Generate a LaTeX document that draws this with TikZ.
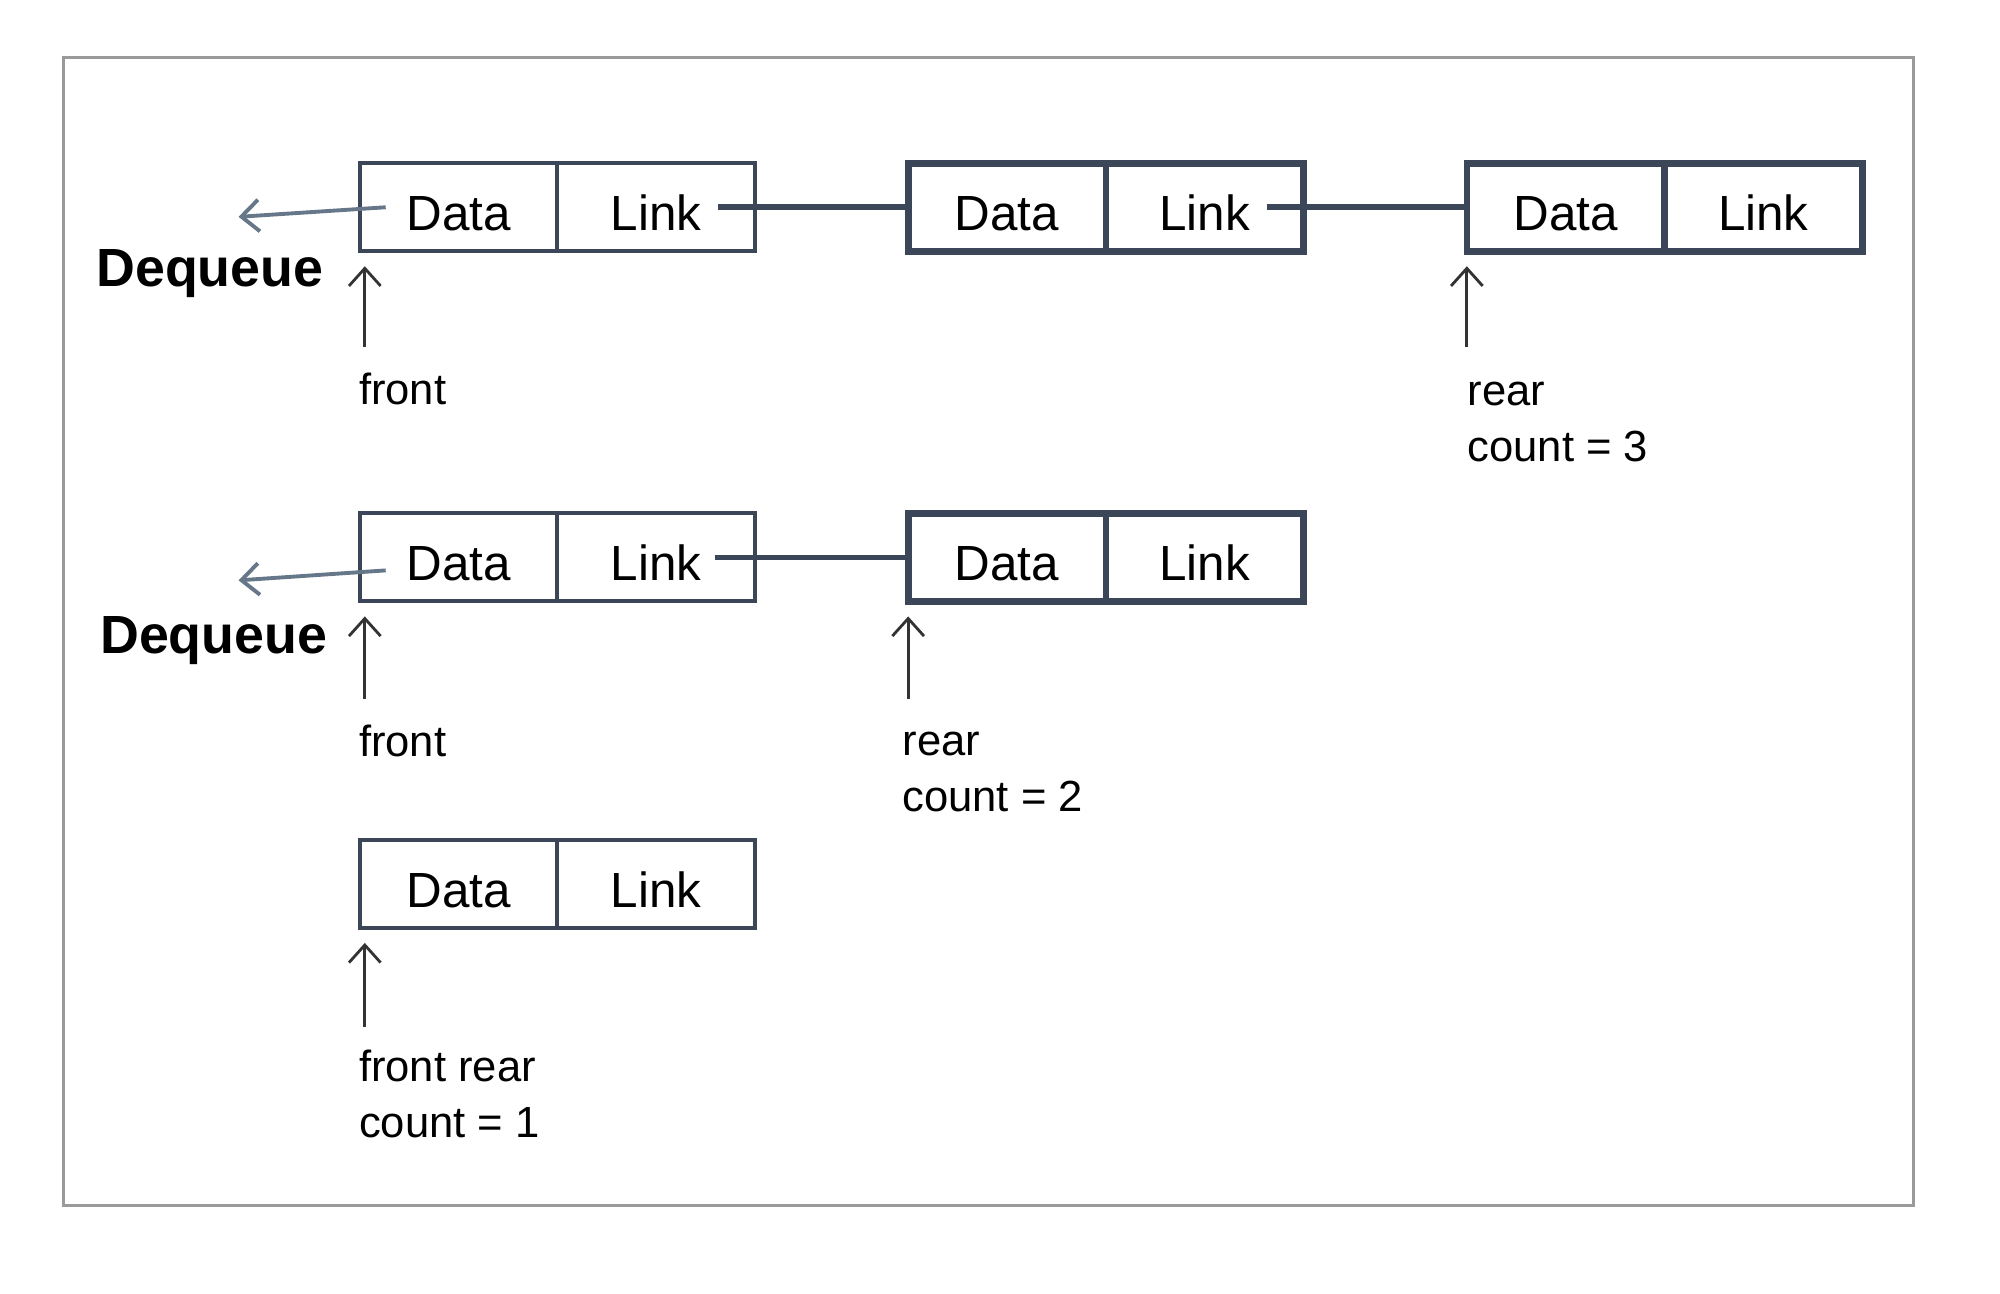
\documentclass[tikz,border=0pt]{standalone}
\usepackage{fontspec}
\setmainfont{Liberation Sans}
\usepackage{tikz}
\usetikzlibrary{arrows.meta,positioning}
\definecolor{boxline}{HTML}{3B4759}
\definecolor{deqarrow}{HTML}{66778A}
\definecolor{framegray}{HTML}{9A9A9A}
\definecolor{ptrgray}{HTML}{333333}

\begin{document}
\begin{tikzpicture}[
    x=0.012755cm, y=-0.012755cm,
    >={Straight Barb[length=5pt,width=9pt]},
    cell/.style={
		rectangle,
		draw=boxline,
		line width=1.1pt,
		minimum width=1.977cm,
		minimum height=0.88cm,
		inner sep=0pt,
		outer sep=0pt,
		text height=13.3pt,
		text depth=0pt,
		font=\fontsize{14.05}{17}\selectfont
	},
	heavycell/.style={
		cell,
		line width=1.9pt
	},
	linkline/.style={
		draw=boxline,
		line width=1.6pt
	},
	deqptr/.style={
		draw=deqarrow,
		line width=1.1pt,
		->
	},
	ptr/.style={
		draw=ptrgray,
		line width=0.8pt,
		->,
		shorten >=0.15cm
	},
	deq/.style={
		font=\bfseries\fontsize{15.3}{18}\selectfont,
		inner sep=0pt,
		anchor=base west
	},
	tag/.style={
		font=\fontsize{12.4}{16}\selectfont,
		align=left,
		inner sep=0pt,
		anchor=base west
	}
  ]
  \useasboundingbox (0,0) rectangle (1568,1014);
  \draw [framegray, line width=0.9pt] (50,45) rectangle (1500,945);

  % first row: three elements
  \node [cell] (d1) at (359.5,162.5) {Data};
  \node [cell, right=0pt of d1] (l1) {Link};
  \node [heavycell] (d2) at (789.5,162.5) {Data};
  \node [heavycell, right=0pt of d2] (l2) {Link};
  \node [heavycell] (d3) at (1227.5,162.5) {Data};
  \node [heavycell, right=0pt of d3] (l3) {Link};

  \draw [linkline] ([xshift=0.62cm]l1.center) -- (d2.west);
  \draw [linkline] ([xshift=0.62cm]l2.center) -- (d3.west);

  \coordinate (out1) at (187,170);
  \draw [deqptr] ([xshift=0.26cm]d1.west) -- (out1);
  \node [deq] (deq1) at (75,225) {Dequeue};

  \coordinate (f1) at (286,272);
  \draw [ptr] (f1) -- (f1 |- d1.south);
  \node [tag] (front1) at (281,317) {front};
  \coordinate (r1) at (1150,272);
  \draw [ptr] (r1) -- (r1 |- d3.south);
  \node [tag] (rear1) at (1150,362) {rear\\count = 3};

  % second row: two elements
  \node [cell] (d4) at (359.5,437) {Data};
  \node [cell, right=0pt of d4] (l4) {Link};
  \node [heavycell] (d5) at (789.5,437) {Data};
  \node [heavycell, right=0pt of d5] (l5) {Link};

  \draw [linkline] ([xshift=0.59cm]l4.center) -- (d5.west);

  \coordinate (out2) at (187,455);
  \draw [deqptr] ([xshift=0.26cm, yshift=-0.13cm]d4.west) -- (out2);
  \node [deq] (deq2) at (78,512) {Dequeue};

  \coordinate (f2) at (286,548);
  \draw [ptr] (f2) -- (f2 |- d4.south);
  \node [tag] (front2) at (281,593) {front};
  \coordinate (r2) at (712,548);
  \draw [ptr] (r2) -- (r2 |- d5.south);
  \node [tag] (rear2) at (707,636) {rear\\count = 2};

  % third row: one element
  \node [cell] (d6) at (359.5,693) {Data};
  \node [cell, right=0pt of d6] (l6) {Link};

  \coordinate (f3) at (286,805);
  \draw [ptr] (f3) -- (f3 |- d6.south);
  \node [tag] (rear3) at (281,892) {front rear\\count = 1};

\end{tikzpicture}
\end{document}
